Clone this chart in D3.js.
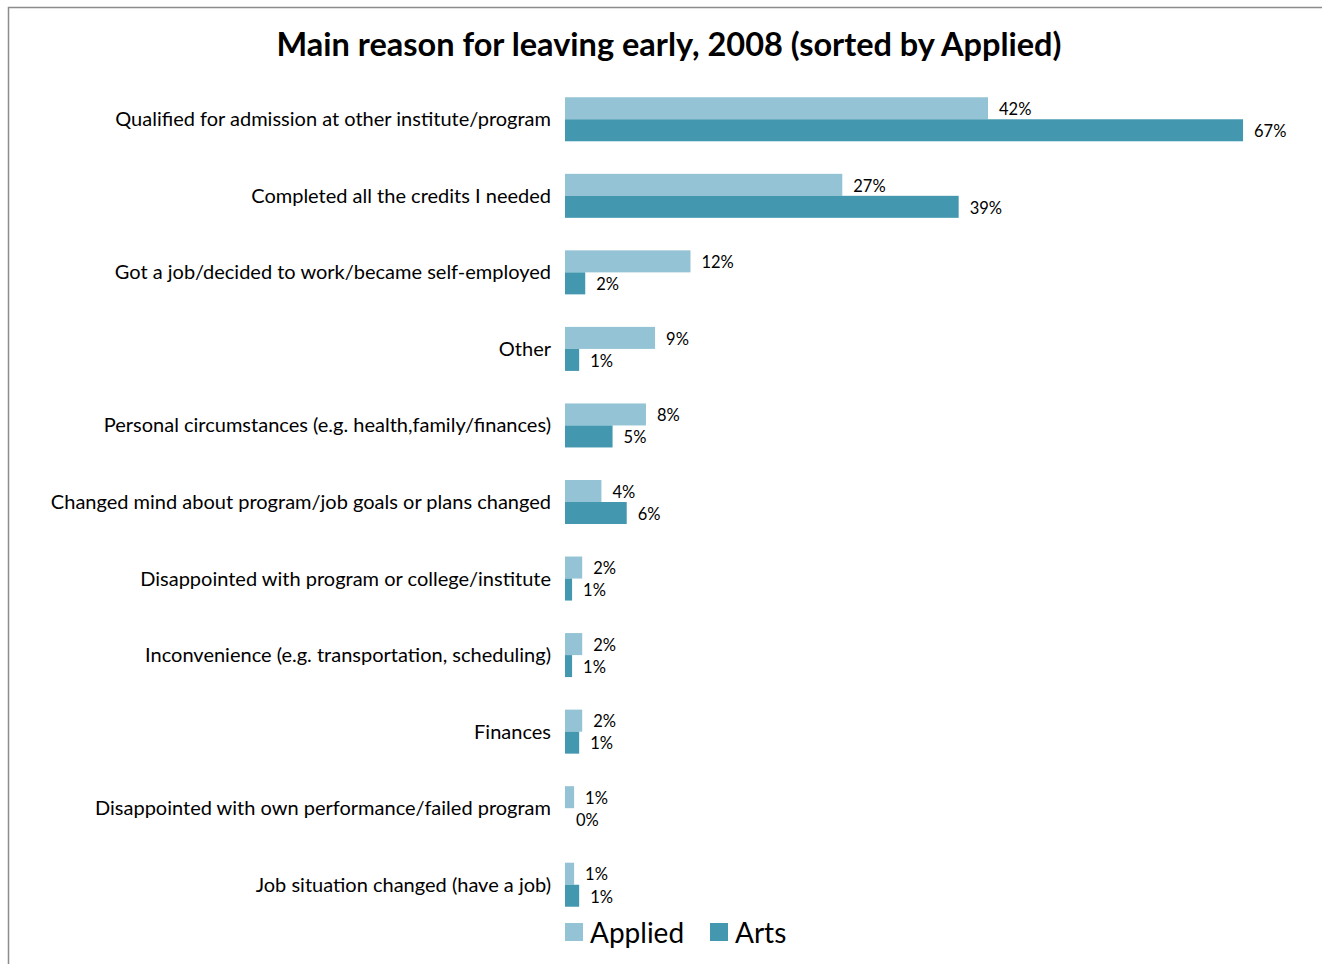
<!DOCTYPE html>
<html>
<head>
<meta charset="utf-8">
<script src="https://cdn.jsdelivr.net/npm/d3@7"></script>
<style>
  html, body { margin: 0; padding: 0; background: #fff; }
  svg { display: block; font-family: Lato, "Open Sans", sans-serif; }
</style>
</head>
<body>
<svg id="chart" width="1322" height="964"></svg>
<script>
// Reasons for leaving early, sorted by the Applied share
const categories = [
  "Qualified for admission at other institute/program",
  "Completed all the credits I needed",
  "Got a job/decided to work/became self-employed",
  "Other",
  "Personal circumstances (e.g. health,family/finances)",
  "Changed mind about program/job goals or plans changed",
  "Disappointed with program or college/institute",
  "Inconvenience (e.g. transportation, scheduling)",
  "Finances",
  "Disappointed with own performance/failed program",
  "Job situation changed (have a job)"
];
const seriesNames = ["Applied", "Arts"];
// shares in percent
const appliedValues = [41.8, 27.4, 12.4, 8.9, 8.0, 3.6, 1.7, 1.7, 1.7, 0.9, 0.9];
const artsValues    = [67.0, 38.9, 2.0, 1.4, 4.7, 6.1, 0.7, 0.7, 1.4, 0.0, 1.4];
const seriesColors = ["#93c3d4", "#4398b0"];
const titleText = "Main reason for leaving early, 2008 (sorted by Applied)";

const rows = categories.map((c, i) => ({
  category: c,
  values: [
    { series: seriesNames[0], value: appliedValues[i] },
    { series: seriesNames[1], value: artsValues[i] }
  ]
}));

const svg = d3.select("#chart");

// outer frame (left and top edges)
svg.append("path")
  .attr("d", "M8.5,964 V7.5 H1322")
  .attr("fill", "none")
  .attr("stroke", "#8c8c8c")
  .attr("stroke-width", 1.5);

svg.append("text")
  .attr("x", 669).attr("y", 56)
  .attr("text-anchor", "middle")
  .attr("font-weight", "bold")
  .attr("font-size", 32.5)
  .attr("fill", "#000")
  .text(titleText);

const x = d3.scaleLinear().domain([0, 70]).range([565, 565 + 708.4]);
const y = d3.scaleBand().domain(categories).range([81, 923]).paddingInner(0.425).paddingOuter(0.2125);
const ys = d3.scaleBand().domain(seriesNames).range([0, y.bandwidth()]);
const color = d3.scaleOrdinal().domain(seriesNames).range(seriesColors);

// category labels
svg.append("g").selectAll("text")
  .data(categories)
  .join("text")
  .attr("x", 551)
  .attr("y", d => y(d) + y.bandwidth() / 2)
  .attr("dy", "0.35em")
  .attr("text-anchor", "end")
  .attr("font-size", 20)
  .attr("fill", "#000")
  .text(d => d);

const groups = svg.append("g").selectAll("g")
  .data(rows)
  .join("g")
  .attr("transform", d => `translate(0,${y(d.category)})`);

groups.selectAll("rect")
  .data(d => d.values)
  .join("rect")
  .attr("x", x(0))
  .attr("y", d => ys(d.series))
  .attr("width", d => x(d.value) - x(0))
  .attr("height", ys.bandwidth())
  .attr("fill", d => color(d.series));

groups.selectAll("text")
  .data(d => d.values)
  .join("text")
  .attr("x", d => x(d.value) + 11)
  .attr("y", d => ys(d.series) + ys.bandwidth() / 2 + 1)
  .attr("dy", "0.35em")
  .attr("font-size", 16.5)
  .attr("fill", "#000")
  .text(d => Math.round(d.value) + "%");

// legend
const legend = svg.append("g").selectAll("g")
  .data(seriesNames)
  .join("g")
  .attr("transform", (d, i) => `translate(${i === 0 ? 565 : 710},923)`);
legend.append("rect")
  .attr("width", 18).attr("height", 18)
  .attr("fill", d => color(d));
legend.append("text")
  .attr("x", 25).attr("y", 10)
  .attr("dy", "0.35em")
  .attr("font-size", 28)
  .attr("fill", "#000")
  .text(d => d);
</script>
</body>
</html>
